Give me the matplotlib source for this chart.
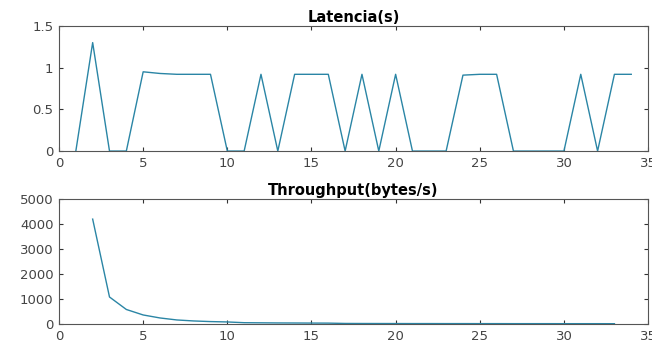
import matplotlib
matplotlib.use("Agg")
import matplotlib.pyplot as plt

lat_x = list(range(1, 35))
lat_y = [0, 1.3, 0, 0, 0.95, 0.93, 0.92, 0.92, 0.92, 0, 0, 0.92, 0, 0.92, 0.92, 0.92,
         0, 0.92, 0, 0.92, 0, 0, 0, 0.91, 0.92, 0.92, 0, 0, 0, 0, 0.92, 0, 0.92, 0.92]

thr_x = list(range(2, 34))
thr_y = [4200, 1080, 580, 360, 240, 160, 120, 95, 80, 50, 45, 40, 38, 35, 33, 20,
         18, 17, 16, 15, 15, 14, 14, 13, 13, 12, 12, 12, 11, 11, 11, 10]

line_color = "#2a85a5"
plt.rcParams['font.family'] = ['DejaVu Sans']

fig = plt.figure(figsize=(6.52, 3.41), dpi=100)
ax1 = fig.add_axes([0.0905, 0.557, 0.9035, 0.367])
ax2 = fig.add_axes([0.0905, 0.050, 0.9035, 0.366])

def style(ax):
    for s in ax.spines.values():
        s.set_color("#555555")
        s.set_linewidth(0.8)
    ax.tick_params(direction="in", top=True, right=True, length=3, labelsize=9.5,
                   labelcolor="#444444", color="#333333", pad=4)
    ax.set_xlim(0, 35)
    ax.set_xticks([0, 5, 10, 15, 20, 25, 30, 35])

ax1.plot(lat_x, lat_y, color=line_color, lw=1.0)
ax1.set_ylim(0, 1.5)
ax1.set_yticks([0, 0.5, 1, 1.5])
ax1.set_yticklabels(["0", "0.5", "1", "1.5"])
ax1.set_title("Latencia(s)", fontsize=10.5, fontweight="bold", pad=3)
style(ax1)

ax2.plot(thr_x, thr_y, color=line_color, lw=1.0)
ax2.set_ylim(0, 5000)
ax2.set_yticks([0, 1000, 2000, 3000, 4000, 5000])
ax2.set_title("Throughput(bytes/s)", fontsize=10.5, fontweight="bold", pad=3)
style(ax2)

fig.savefig("out.png", dpi=100)
